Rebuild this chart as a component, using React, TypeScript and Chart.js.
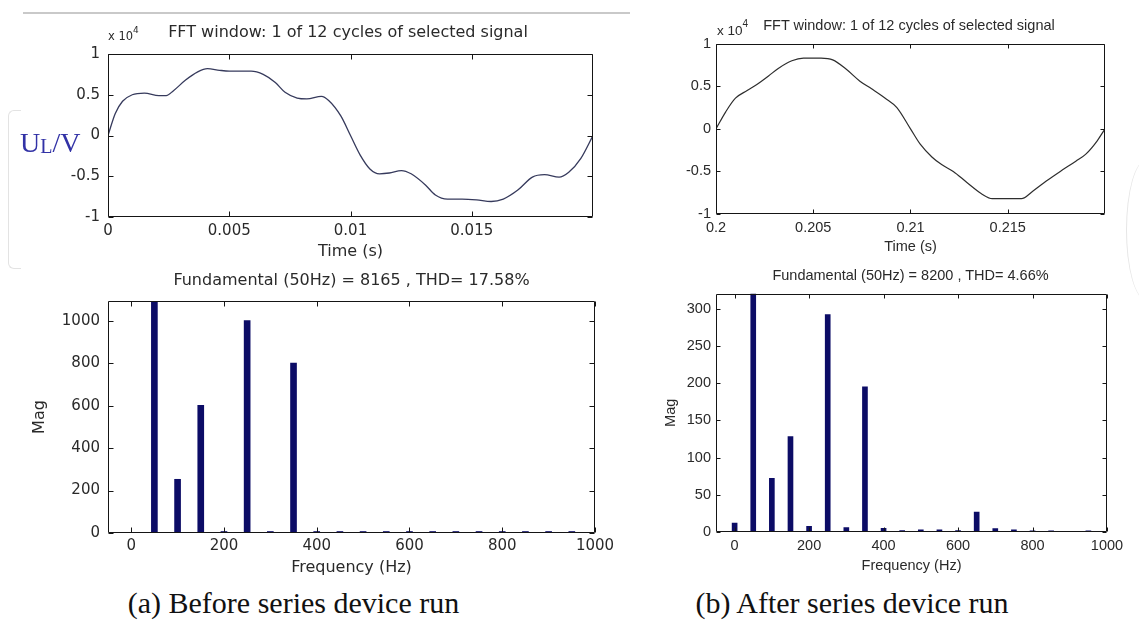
import React, { useEffect, useRef } from 'react';
import { Chart, registerables } from 'chart.js';

Chart.register(...registerables);

// ---------------- data ----------------
// (a) before: one cycle of U_L, values in units of 10^4 V
const beforeTime = [0, 0.0003, 0.0006, 0.001, 0.0015, 0.0021, 0.0024, 0.0027, 0.0032, 0.0037, 0.0041, 0.0046, 0.005, 0.0059, 0.0064, 0.0069, 0.0073, 0.0078, 0.0082, 0.0088, 0.0091, 0.0096, 0.01, 0.0104, 0.0108, 0.0112, 0.0116, 0.0121, 0.0125, 0.0131, 0.0135, 0.014, 0.0146, 0.0152, 0.0158, 0.0163, 0.0169, 0.0175, 0.018, 0.0186, 0.019, 0.0195, 0.02];
const beforeVoltage = [0, 0.27, 0.42, 0.5, 0.52, 0.49, 0.49, 0.55, 0.68, 0.78, 0.82, 0.8, 0.79, 0.79, 0.75, 0.65, 0.53, 0.46, 0.45, 0.48, 0.43, 0.24, 0, -0.24, -0.41, -0.47, -0.46, -0.43, -0.47, -0.61, -0.73, -0.78, -0.78, -0.79, -0.81, -0.78, -0.67, -0.51, -0.48, -0.51, -0.45, -0.28, 0];

// (b) after: one cycle of U_L, values in units of 10^4 V
const afterTime = [0.2, 0.2005, 0.201, 0.2016, 0.2021, 0.2027, 0.2032, 0.2039, 0.2045, 0.2054, 0.206, 0.2067, 0.2074, 0.208, 0.2087, 0.2093, 0.21, 0.2105, 0.2111, 0.2116, 0.2122, 0.2129, 0.2137, 0.2142, 0.215, 0.2157, 0.2163, 0.217, 0.2177, 0.2185, 0.219, 0.2196, 0.22];
const afterVoltage = [0, 0.2, 0.36, 0.45, 0.52, 0.62, 0.71, 0.8, 0.83, 0.83, 0.81, 0.7, 0.56, 0.47, 0.36, 0.25, 0, -0.18, -0.33, -0.42, -0.5, -0.63, -0.77, -0.82, -0.82, -0.82, -0.73, -0.61, -0.5, -0.38, -0.3, -0.14, 0];

// FFT spectra
const harmonicFreq = [0, 50, 100, 150, 200, 250, 300, 350, 400, 450, 500, 550, 600, 650, 700, 750, 800, 850, 900, 950];
const beforeMag = [3, 8165, 253, 601, 7, 1001, 7, 801, 7, 7, 7, 7, 7, 7, 7, 7, 7, 7, 7, 7];
const afterMag = [12, 8200, 72, 128, 7.5, 292, 6, 195, 5, 2, 3, 3, 2, 26.6, 4.5, 3, 1.5, 1.5, 1, 1.5];

// tick labels
const beforeTimeTicks = [0, 0.005, 0.01, 0.015];
const afterTimeTicks = [0.2, 0.205, 0.21, 0.215];
const voltageTicks = [-1, -0.5, 0, 0.5, 1];
const freqTicks = [0, 200, 400, 600, 800, 1000];
const beforeMagTicks = [0, 200, 400, 600, 800, 1000];
const afterMagTicks = [0, 50, 100, 150, 200, 250, 300];

// texts
const waveTitle = 'FFT window: 1 of 12 cycles of selected signal';
const beforeFftTitle = 'Fundamental (50Hz) = 8165 , THD= 17.58%';
const afterFftTitle = 'Fundamental (50Hz) = 8200 , THD= 4.66%';
const captionA = '(a) Before series device run';
const captionB = '(b) After series device run';

// ---------------- styling ----------------
const LEFT_FONT = 'DejaVu Sans';
const RIGHT_FONT = 'Liberation Sans';
const SERIF = 'Liberation Serif';
const TEXT = '#2a2a2a';
const BAR = '#0c0c66';

const matlabFrame = {
  id: 'matlabFrame',
  afterDatasetsDraw(chart: any, _args: any, opts: any) {
    const { ctx, chartArea: a, scales } = chart;
    const len = opts.tickLen ?? 5;
    ctx.save();
    ctx.strokeStyle = opts.color ?? '#151515';
    ctx.lineWidth = 1;
    ctx.beginPath();
    const L = Math.round(a.left) + 0.5;
    const R = Math.round(a.right) - 0.5;
    const T = Math.round(a.top) + 0.5;
    const B = Math.round(a.bottom) - 0.5;
    ctx.rect(L, T, R - L, B - T);
    for (const t of scales.x.ticks) {
      const p = Math.round(scales.x.getPixelForValue(t.value)) + 0.5;
      ctx.moveTo(p, B); ctx.lineTo(p, B - len);
      ctx.moveTo(p, T); ctx.lineTo(p, T + len);
    }
    for (const t of scales.y.ticks) {
      const p = Math.round(scales.y.getPixelForValue(t.value)) + 0.5;
      ctx.moveTo(L, p); ctx.lineTo(L + len, p);
      ctx.moveTo(R, p); ctx.lineTo(R - len, p);
    }
    ctx.stroke();
    ctx.restore();
  },
};

interface PanelSpec {
  kind: 'line' | 'bar';
  xs: number[];
  ys: number[];
  color: string;
  xMin: number; xMax: number; yMin: number; yMax: number;
  xTicks: number[]; yTicks: number[];
  xTitle: string; yTitle?: string;
  family: string; tickSize: number; labelSize: number;
  area: { l: number; r: number; t: number; b: number };
  yAxisW: number; xAxisH: number; padTop: number; padRight: number;
  xTickPad: number; yTickPad: number; yTitlePad?: number;
  tickLen: number; barThickness?: number; lineWidth?: number;
}

function buildConfig(s: PanelSpec): any {
  const points = s.xs.map((x, i) => ({ x, y: s.ys[i] }));
  const tickFont = { family: s.family, size: s.tickSize };
  const labelFont = { family: s.family, size: s.labelSize };
  const dataset: any =
    s.kind === 'line'
      ? {
          data: points,
          borderColor: s.color,
          borderWidth: s.lineWidth ?? 1.2,
          pointRadius: 0,
          fill: false,
          cubicInterpolationMode: 'monotone',
        }
      : {
          data: points,
          backgroundColor: s.color,
          borderWidth: 0,
          barThickness: s.barThickness ?? 6,
          clip: 0,
        };
  return {
    type: s.kind,
    data: { datasets: [dataset] },
    plugins: [matlabFrame],
    options: {
      animation: false,
      responsive: false,
      maintainAspectRatio: false,
      events: [],
      layout: { padding: { top: s.padTop, right: s.padRight, left: 0, bottom: 0 } },
      plugins: {
        legend: { display: false },
        tooltip: { enabled: false },
        title: { display: false },
        matlabFrame: { tickLen: s.tickLen },
      },
      scales: {
        x: {
          type: 'linear',
          min: s.xMin,
          max: s.xMax,
          offset: false,
          grid: { display: false, drawTicks: false },
          border: { display: false },
          ticks: {
            font: tickFont,
            color: TEXT,
            padding: s.xTickPad,
            autoSkip: false,
            maxRotation: 0,
            callback: (v: number) => String(v),
          },
          afterBuildTicks: (sc: any) => {
            sc.ticks = s.xTicks.map((v) => ({ value: v }));
          },
          afterFit: (sc: any) => {
            sc.height = s.xAxisH;
          },
          title: { display: true, text: s.xTitle, font: labelFont, color: TEXT, padding: { top: 0, bottom: 0 } },
        },
        y: {
          type: 'linear',
          min: s.yMin,
          max: s.yMax,
          grid: { display: false, drawTicks: false },
          border: { display: false },
          ticks: {
            font: tickFont,
            color: TEXT,
            padding: s.yTickPad,
            autoSkip: false,
            callback: (v: number) => String(v),
          },
          afterBuildTicks: (sc: any) => {
            sc.ticks = s.yTicks.map((v) => ({ value: v }));
          },
          afterFit: (sc: any) => {
            sc.width = s.yAxisW;
          },
          title: s.yTitle
            ? { display: true, text: s.yTitle, font: labelFont, color: TEXT, padding: { top: s.yTitlePad ?? 0, bottom: 0 } }
            : { display: false },
        },
      },
    },
  };
}

function Panel({ spec }: { spec: PanelSpec }) {
  const ref = useRef<HTMLCanvasElement>(null);
  const left = spec.area.l - spec.yAxisW;
  const top = spec.area.t - spec.padTop;
  const width = spec.area.r - spec.area.l + spec.yAxisW + spec.padRight;
  const height = spec.area.b - spec.area.t + spec.padTop + spec.xAxisH;
  useEffect(() => {
    if (!ref.current) return;
    const chart = new Chart(ref.current, buildConfig(spec));
    return () => chart.destroy();
  }, []);
  return (
    <canvas
      ref={ref}
      width={width}
      height={height}
      style={{ position: 'absolute', left, top, width, height }}
    />
  );
}

const panels: PanelSpec[] = [
  {
    kind: 'line', xs: beforeTime, ys: beforeVoltage, color: '#363a5c',
    xMin: 0, xMax: 0.02, yMin: -1, yMax: 1,
    xTicks: beforeTimeTicks, yTicks: voltageTicks, xTitle: 'Time (s)',
    family: LEFT_FONT, tickSize: 15, labelSize: 16,
    area: { l: 108, r: 593, t: 49, b: 217 },
    yAxisW: 100, xAxisH: 44, padTop: 12, padRight: 14,
    xTickPad: 5, yTickPad: 8, tickLen: 5, lineWidth: 1.3,
  },
  {
    kind: 'line', xs: afterTime, ys: afterVoltage, color: '#2e2e2e',
    xMin: 0.2, xMax: 0.22, yMin: -1, yMax: 1,
    xTicks: afterTimeTicks, yTicks: voltageTicks, xTitle: 'Time (s)',
    family: RIGHT_FONT, tickSize: 14.5, labelSize: 14.5,
    area: { l: 716, r: 1105, t: 42, b: 214 },
    yAxisW: 60, xAxisH: 42, padTop: 12, padRight: 26,
    xTickPad: 5, yTickPad: 5, tickLen: 4, lineWidth: 1.2,
  },
  {
    kind: 'bar', xs: harmonicFreq, ys: beforeMag, color: BAR,
    xMin: -50, xMax: 1000, yMin: 0, yMax: 1093,
    xTicks: freqTicks, yTicks: beforeMagTicks, xTitle: 'Frequency (Hz)', yTitle: 'Mag',
    family: LEFT_FONT, tickSize: 15, labelSize: 16,
    area: { l: 108, r: 595, t: 296, b: 533 },
    yAxisW: 100, xAxisH: 44, padTop: 12, padRight: 26,
    xTickPad: 4, yTickPad: 8, yTitlePad: 22, tickLen: 5, barThickness: 6,
  },
  {
    kind: 'bar', xs: harmonicFreq, ys: afterMag, color: BAR,
    xMin: -50, xMax: 1000, yMin: 0, yMax: 320,
    xTicks: freqTicks, yTicks: afterMagTicks, xTitle: 'Frequency (Hz)', yTitle: 'Mag',
    family: RIGHT_FONT, tickSize: 14.5, labelSize: 14.5,
    area: { l: 716, r: 1107, t: 292, b: 532 },
    yAxisW: 66, xAxisH: 43, padTop: 12, padRight: 26,
    xTickPad: 5, yTickPad: 5, yTitlePad: 12, tickLen: 4, barThickness: 5,
  },
];

function Txt(props: {
  x: number; top: number; size: number; family: string; color?: string;
  center?: boolean; children: React.ReactNode;
}) {
  return (
    <div
      style={{
        position: 'absolute',
        left: props.x,
        top: props.top,
        fontFamily: props.family,
        fontSize: props.size,
        lineHeight: 1,
        whiteSpace: 'nowrap',
        color: props.color ?? TEXT,
        transform: props.center ? 'translateX(-50%)' : undefined,
      }}
    >
      {props.children}
    </div>
  );
}

export default function App() {
  return (
    <div
      style={{
        position: 'absolute',
        left: 0,
        top: 0,
        width: 1139,
        height: 626,
        background: '#ffffff',
        overflow: 'hidden',
      }}
    >
      {/* faint page decorations */}
      <div style={{ position: 'absolute', left: 23, top: 12, width: 607, height: 2, background: '#c9c9c9' }} />
      <div
        style={{
          position: 'absolute', left: 8, top: 110, width: 12, height: 157,
          border: '1px solid #e3e3e3', borderRight: 'none', borderRadius: '6px 0 0 6px',
        }}
      />
      <div
        style={{
          position: 'absolute', left: 1126, top: 160, width: 40, height: 140,
          borderLeft: '1px solid #e6e6e6', borderRadius: '50%',
        }}
      />

      {panels.map((p, i) => (
        <Panel key={i} spec={p} />
      ))}

      {/* panel titles */}
      <Txt x={108} top={31} size={11.5} family={LEFT_FONT}>
        x 10<span style={{ fontSize: 9, position: 'relative', top: -7 }}>4</span>
      </Txt>
      <Txt x={348} top={23.8} size={16} family={LEFT_FONT} center>
        {waveTitle}
      </Txt>
      <Txt x={717} top={23.6} size={13.5} family={RIGHT_FONT}>
        x 10<span style={{ fontSize: 10, position: 'relative', top: -8 }}>4</span>
      </Txt>
      <Txt x={909} top={17.9} size={14.5} family={RIGHT_FONT} center>
        {waveTitle}
      </Txt>
      <Txt x={351.5} top={271.8} size={16} family={LEFT_FONT} center>
        {beforeFftTitle}
      </Txt>
      <Txt x={910.5} top={267.9} size={14.5} family={RIGHT_FONT} center>
        {afterFftTitle}
      </Txt>

      {/* y label of the left waveform */}
      <Txt x={20} top={128.5} size={28} family={SERIF} color="#3232a6">
        U<span style={{ fontSize: 20, position: 'relative', top: 1 }}>L</span>/V
      </Txt>

      {/* captions */}
      <Txt x={293.5} top={588} size={30} family={SERIF} color="#111" center>
        {captionA}
      </Txt>
      <Txt x={852} top={588} size={30} family={SERIF} color="#111" center>
        {captionB}
      </Txt>
    </div>
  );
}
